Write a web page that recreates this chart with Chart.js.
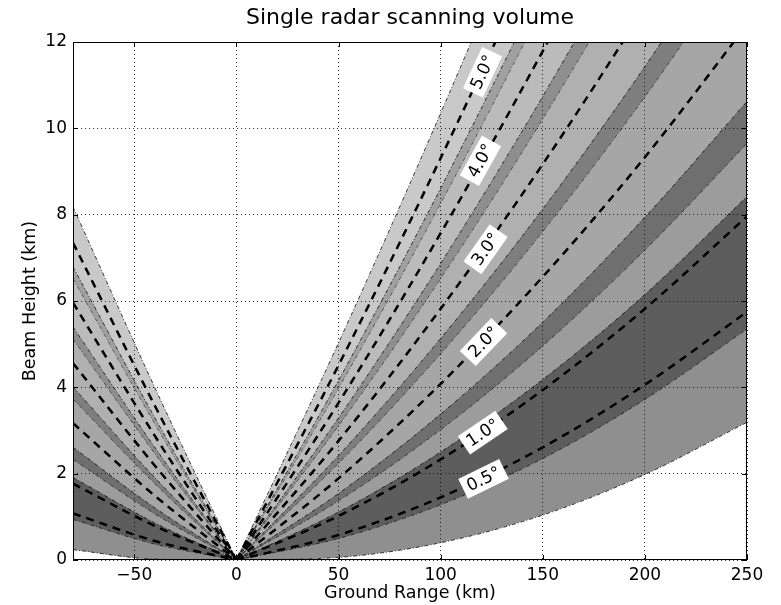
<!DOCTYPE html>
<html lang="en">
  <head>
    <meta charset="UTF-8" />
    <title>Single radar scanning volume</title>
    <script src="https://cdn.jsdelivr.net/npm/chart.js@4"></script>
    <style>
      html, body { margin: 0; padding: 0; background: #fff; }
      #wrap { width: 781px; height: 605px; position: relative; }
    </style>
  </head>
  <body>
    <div id="wrap"><canvas id="radarChart"></canvas></div>

    <script>
      // ground range sample points (km)
      const leftRange = [-80, -40, 0];
      const rightRange = [0, 50, 100, 150, 200, 250];
      const xTickValues = [-50, 0, 50, 100, 150, 200, 250];

      // one row per elevation sweep
      const elevationLabels = ["0.5°", "1.0°", "2.0°", "3.0°", "4.0°", "5.0°"];

      // beam heights (km), left side at -80, -40, 0
      const lowerLeft = [
        [0.24, 0.02, 0], [0.94, 0.37, 0], [2.33, 1.07, 0],
        [3.73, 1.77, 0], [5.12, 2.47, 0], [6.52, 3.16, 0],
      ];
      const centerLeft = [
        [1.08, 0.44, 0], [1.77, 0.79, 0], [3.17, 1.49, 0],
        [4.56, 2.19, 0], [5.96, 2.88, 0], [7.35, 3.58, 0],
      ];
      const upperLeft = [
        [1.91, 0.86, 0], [2.61, 1.21, 0], [4.01, 1.91, 0],
        [5.40, 2.61, 0], [6.79, 3.30, 0], [8.18, 4.00, 0],
      ];

      // right side at 0, 50, 100, 150, 200, 250
      const lowerRight = [
        [0, 0.06, 0.40, 1.04, 1.98, 3.19],
        [0, 0.50, 1.28, 2.35, 3.72, 5.35],
        [0, 1.37, 3.02, 4.96, 7.18, 9.65],
        [0, 2.24, 4.78, 7.61, 10.73, 14.15],
        [0, 3.11, 6.52, 10.22, 14.22, 18.51],
        [0, 3.98, 8.26, 12.83, 17.70, 22.86],
      ];
      const centerRight = [
        [0, 0.58, 1.45, 2.61, 4.06, 5.75],
        [0, 1.02, 2.33, 3.94, 5.82, 7.96],
        [0, 1.89, 4.08, 6.56, 9.33, 12.40],
        [0, 2.76, 5.82, 9.17, 12.82, 16.76],
        [0, 3.64, 7.57, 11.79, 16.31, 21.12],
        [0, 4.51, 9.31, 14.40, 19.79, 25.47],
      ];
      const upperRight = [
        [0, 1.11, 2.50, 4.18, 6.15, 8.42],
        [0, 1.54, 3.38, 5.51, 7.94, 10.62],
        [0, 2.42, 5.13, 8.13, 11.43, 15.02],
        [0, 3.29, 6.87, 10.74, 14.91, 19.38],
        [0, 4.16, 8.61, 13.35, 18.39, 23.73],
        [0, 5.03, 10.35, 15.96, 21.87, 28.07],
      ];

      // where the elevation tags sit (km)
      const labelX = [121, 120.6, 121, 122, 119.5, 120.5];
      const labelY = [1.88, 2.95, 5.05, 7.2, 9.25, 11.3];

      const FONT = "'DejaVu Sans', sans-serif";
      const beamFills = [
        "rgba(31,31,31,0.5)",
        "rgba(57,57,57,0.5)",
        "rgba(77,77,77,0.5)",
        "rgba(97,97,97,0.5)",
        "rgba(119,119,119,0.5)",
        "rgba(147,147,147,0.5)",
      ];
      const edgeStyle = {
        borderColor: "rgba(0,0,0,0.75)",
        borderWidth: 1,
        borderDash: [4, 2, 1, 2],
        order: 1,
      };
      const centerStyle = {
        borderColor: "#000",
        borderWidth: 2.5,
        borderDash: [8, 6],
        order: 0,
      };

      const datasets = [];
      function addLine(xs, ys, style) {
        datasets.push(
          Object.assign(
            {
              data: xs.map((x, i) => ({ x: x, y: ys[i] })),
              pointRadius: 0,
              cubicInterpolationMode: "monotone",
              fill: false,
            },
            style
          )
        );
        return datasets.length - 1;
      }

      elevationLabels.forEach((_, b) => {
        const sides = [
          [leftRange, lowerLeft, upperLeft, centerLeft],
          [rightRange, lowerRight, upperRight, centerRight],
        ];
        sides.forEach(([xs, lo, up, ce]) => {
          const loIdx = addLine(xs, lo[b], edgeStyle);
          addLine(xs, up[b], Object.assign({}, edgeStyle, { fill: loIdx, backgroundColor: beamFills[b] }));
          addLine(xs, ce[b], centerStyle);
        });
      });

      const decorations = {
        id: "decorations",
        afterDraw(chart) {
          const { ctx, chartArea: a, scales } = chart;
          const sx = scales.x, sy = scales.y;
          ctx.save();

          // elevation tags
          elevationLabels.forEach((txt, b) => {
            const px = sx.getPixelForValue(labelX[b]);
            const py = sy.getPixelForValue(labelY[b]);
            const x1 = sx.getPixelForValue(rightRange[2]), y1 = sy.getPixelForValue(centerRight[b][2]);
            const x2 = sx.getPixelForValue(rightRange[3]), y2 = sy.getPixelForValue(centerRight[b][3]);
            ctx.save();
            ctx.translate(px, py);
            ctx.rotate(Math.atan2(y2 - y1, x2 - x1));
            ctx.font = "17px " + FONT;
            const w = ctx.measureText(txt).width + 10, h = 22;
            ctx.fillStyle = "#fff";
            ctx.fillRect(-w / 2, -h / 2, w, h);
            ctx.fillStyle = "#000";
            ctx.textAlign = "center";
            ctx.textBaseline = "middle";
            ctx.fillText(txt, 0, 1);
            ctx.restore();
          });

          // frame and inward ticks
          ctx.strokeStyle = "#000";
          ctx.lineWidth = 1;
          ctx.strokeRect(a.left + 0.5, a.top + 0.5, a.right - a.left - 1, a.bottom - a.top - 1);
          ctx.beginPath();
          xTickValues.forEach((v) => {
            const px = Math.round(sx.getPixelForValue(v)) + 0.5;
            ctx.moveTo(px, a.bottom); ctx.lineTo(px, a.bottom - 5);
            ctx.moveTo(px, a.top); ctx.lineTo(px, a.top + 5);
          });
          sy.ticks.forEach((t) => {
            const py = Math.round(sy.getPixelForValue(t.value)) + 0.5;
            ctx.moveTo(a.left, py); ctx.lineTo(a.left + 5, py);
            ctx.moveTo(a.right, py); ctx.lineTo(a.right - 5, py);
          });
          ctx.stroke();

          // titles
          ctx.fillStyle = "#000";
          ctx.textAlign = "center";
          ctx.textBaseline = "middle";
          const cx = (a.left + a.right) / 2;
          ctx.font = "22px " + FONT;
          ctx.fillText("Single radar scanning volume", cx, 18);
          ctx.font = "17.5px " + FONT;
          ctx.fillText("Ground Range (km)", cx, 593);
          ctx.translate(30, (a.top + a.bottom) / 2);
          ctx.rotate(-Math.PI / 2);
          ctx.fillText("Beam Height (km)", 0, 0);
          ctx.restore();
        },
      };

      new Chart(document.getElementById("radarChart"), {
        type: "line",
        data: { datasets: datasets },
        plugins: [decorations],
        options: {
          responsive: true,
          maintainAspectRatio: false,
          animation: false,
          events: [],
          layout: { padding: { top: 42, right: 34, left: 0, bottom: 0 } },
          plugins: { legend: { display: false }, tooltip: { enabled: false } },
          scales: {
            x: {
              type: "linear",
              min: -80,
              max: 250,
              afterBuildTicks: (s) => { s.ticks = xTickValues.map((v) => ({ value: v })); },
              afterFit: (s) => { s.height = 45; },
              grid: { color: "rgba(0,0,0,0.8)", lineWidth: 1, drawTicks: false, z: 1 },
              border: { display: false, dash: [1, 3] },
              ticks: {
                padding: 5,
                color: "#000",
                font: { family: FONT, size: 17 },
                maxRotation: 0,
                autoSkip: false,
                callback: (v) => (v < 0 ? "\u2212" + Math.abs(v) : String(v)),
              },
            },
            y: {
              min: 0,
              max: 12,
              afterFit: (s) => { s.width = 73; },
              grid: { color: "rgba(0,0,0,0.8)", lineWidth: 1, drawTicks: false, z: 1 },
              border: { display: false, dash: [1, 3] },
              ticks: { stepSize: 2, padding: 6, color: "#000", font: { family: FONT, size: 17 } },
            },
          },
        },
      });
    </script>
  </body>
</html>
